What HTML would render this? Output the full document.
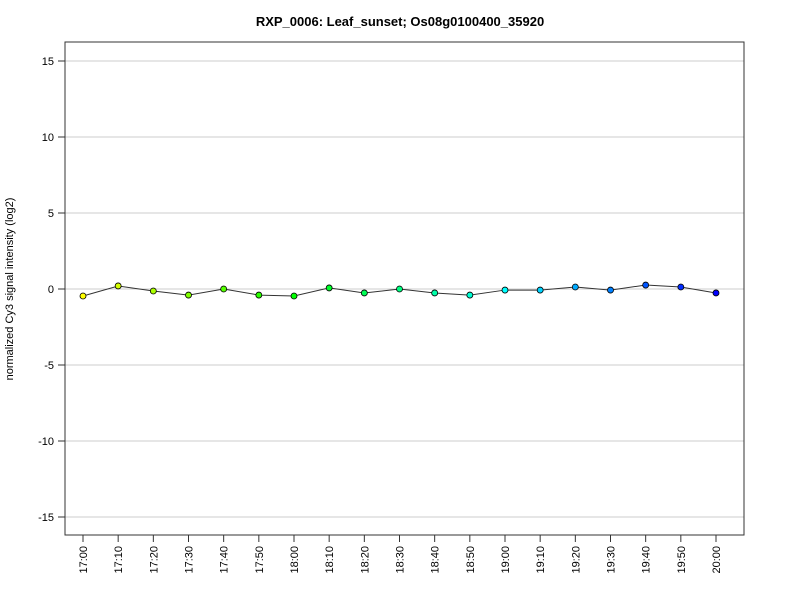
<!DOCTYPE html>
<html><head><meta charset="utf-8"><style>
body{margin:0;background:#fff;font-family:"Liberation Sans",sans-serif}
</style></head><body>
<svg id="chart" width="800" height="600" xmlns="http://www.w3.org/2000/svg" font-family="Liberation Sans, sans-serif">
<text x="400" y="26" text-anchor="middle" font-size="13" font-weight="bold">RXP_0006: Leaf_sunset; Os08g0100400_35920</text>
<text transform="translate(13,289) rotate(-90)" text-anchor="middle" font-size="11">normalized Cy3 signal intensity (log2)</text>
<g id="grid"></g><g id="yaxis"></g><g id="xaxis"></g><g id="series"></g>
<rect x="65" y="42" width="679" height="493" fill="none" stroke="#333"/>
</svg>
<script>
const categories=["17:00","17:10","17:20","17:30","17:40","17:50","18:00","18:10","18:20","18:30","18:40","18:50","19:00","19:10","19:20","19:30","19:40","19:50","20:00"];
const values=[-0.46,0.2,-0.13,-0.4,0,-0.4,-0.46,0.07,-0.26,0,-0.26,-0.4,-0.07,-0.07,0.13,-0.07,0.26,0.13,-0.26];
const yTicks=[-15,-10,-5,0,5,10,15];
const NS="http://www.w3.org/2000/svg";
const x=i=>83+i*(716-83)/(categories.length-1);
const y=v=>289-v*15.2;
function mk(t,a,p){const e=document.createElementNS(NS,t);for(const k in a)e.setAttribute(k,a[k]);p.appendChild(e);return e;}
const grid=document.getElementById('grid'),ya=document.getElementById('yaxis'),xa=document.getElementById('xaxis'),se=document.getElementById('series');
yTicks.forEach(t=>{
 const g=mk('line',{x1:65,x2:744,y1:y(t),y2:y(t),stroke:'#ccc'},grid);
 
 
 mk('line',{x1:58,x2:65,y1:y(t),y2:y(t),stroke:'#333'},ya);
 const l=mk('text',{x:54,y:y(t)+4,'text-anchor':'end','font-size':11},ya);
 
 
 l.textContent=t;
});
categories.forEach((c,i)=>{
 mk('line',{x1:x(i),x2:x(i),y1:535,y2:542,stroke:'#333'},xa);
 const l=mk('text',{transform:`translate(${x(i)+4},546) rotate(-90)`,'text-anchor':'end','font-size':11},xa);
 
 
 l.textContent=c;
});
const pl=mk('polyline',{points:values.map((v,i)=>x(i)+','+y(v)).join(' '),fill:'none',stroke:'#333'},se);


values.forEach((v,i)=>{
 const h=60+180*i/(values.length-1);
 const c=mk('circle',{cx:x(i),cy:y(v),r:3,fill:`hsl(${h},100%,50%)`,stroke:'#000','stroke-width':0.8},se);
 
 
});
</script>
</body></html>
